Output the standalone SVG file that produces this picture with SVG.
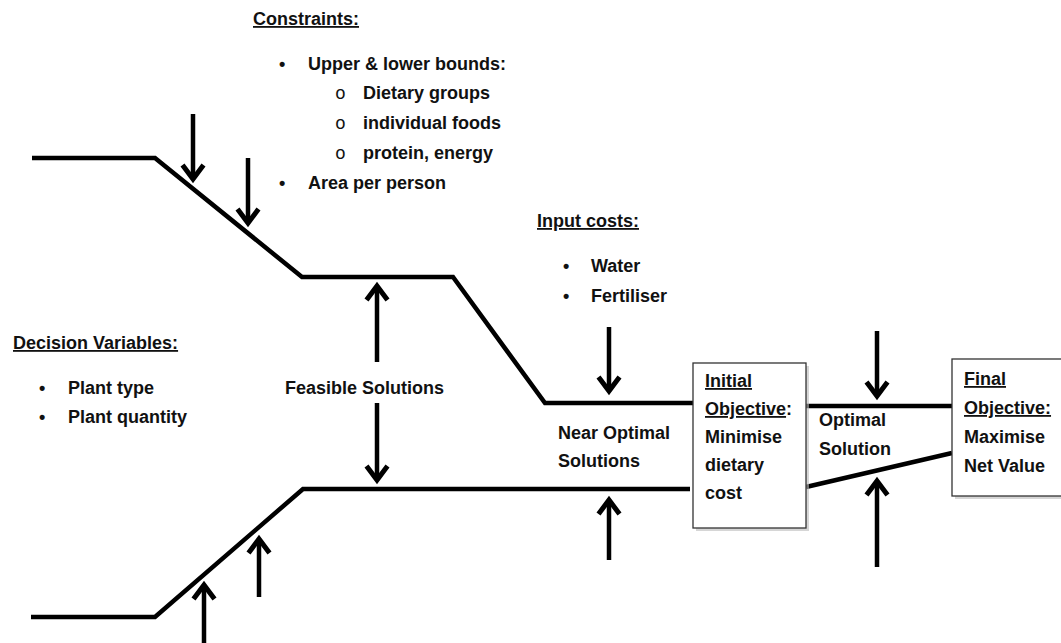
<svg xmlns="http://www.w3.org/2000/svg" width="1061" height="643" viewBox="0 0 1061 643">
<style>
text{font-family:"Liberation Sans",Arial,sans-serif;font-weight:bold;font-size:18px;fill:#111}
.u{text-decoration:underline}
.ln{fill:none;stroke:#000;stroke-width:4.5;stroke-linejoin:miter}
.ar{fill:none;stroke:#000;stroke-width:4.5;marker-end:url(#head)}
.box{fill:#fff;stroke:#333;stroke-width:1.3}
.sh{fill:#bbb;opacity:0.6}
.circ{font-family:"Liberation Mono",monospace;font-weight:normal}
</style>
<defs>
<marker id="head" markerUnits="userSpaceOnUse" viewBox="-20 -14 26 28" refX="0" refY="0" markerWidth="26" markerHeight="28" orient="auto" overflow="visible">
<path d="M-14,-10.5 L0,0 L-14,10.5" fill="none" stroke="#000" stroke-width="5" stroke-linejoin="miter"/>
</marker>
</defs>
<g id="connectors">
<path class="ln" d="M32,158 L155,158 L302,277 L453,277 L545,403 L693,403"/>
<path class="ln" d="M31,617 L155,617 L303,489 L690,489"/>
<path class="ln" d="M806,406 L952,406"/>
<path class="ln" d="M806,487 L952,453"/>
<line class="ar" x1="193" y1="114" x2="193" y2="179"/>
<line class="ar" x1="248" y1="158" x2="248" y2="223"/>
<line class="ar" x1="377" y1="362" x2="377" y2="286"/>
<line class="ar" x1="377" y1="403" x2="377" y2="480"/>
<line class="ar" x1="609" y1="327" x2="609" y2="391"/>
<line class="ar" x1="609" y1="560" x2="609" y2="500"/>
<line class="ar" x1="877" y1="331" x2="877" y2="396"/>
<line class="ar" x1="877" y1="567" x2="877" y2="481"/>
<line class="ar" x1="204" y1="643" x2="204" y2="585"/>
<line class="ar" x1="259" y1="597" x2="259" y2="539"/>
</g>
<g id="constraints">
<text x="253" y="25" class="u">Constraints:</text>
<text x="279" y="70">•</text><text x="308" y="70">Upper &amp; lower bounds:</text>
<text x="335" y="99" class="circ">o</text><text x="363" y="99">Dietary groups</text>
<text x="335" y="129" class="circ">o</text><text x="363" y="129">individual foods</text>
<text x="335" y="159" class="circ">o</text><text x="363" y="159">protein, energy</text>
<text x="279" y="189">•</text><text x="308" y="189">Area per person</text>
</g>
<g id="input-costs">
<text x="537" y="227" class="u">Input costs:</text>
<text x="563" y="272">•</text><text x="591" y="272">Water</text>
<text x="563" y="302">•</text><text x="591" y="302">Fertiliser</text>
</g>
<g id="decision-variables">
<text x="13" y="349" class="u">Decision Variables:</text>
<text x="39" y="394">•</text><text x="68" y="394">Plant type</text>
<text x="39" y="423">•</text><text x="68" y="423">Plant quantity</text>
</g>
<g id="feasible">
<text x="285" y="394">Feasible Solutions</text>
</g>
<g id="near-optimal">
<text x="558" y="439">Near Optimal</text>
<text x="558" y="467">Solutions</text>
</g>
<g id="initial-objective">
<rect class="sh" x="696" y="366" width="113" height="165"/>
<rect class="box" x="693" y="363" width="113" height="165"/>
<text x="705" y="387" class="u">Initial</text>
<text x="705" y="415"><tspan class="u">Objective</tspan>:</text>
<text x="705" y="443">Minimise</text>
<text x="705" y="471">dietary</text>
<text x="705" y="499">cost</text>
</g>
<g id="optimal">
<text x="819" y="426">Optimal</text>
<text x="819" y="455">Solution</text>
</g>
<g id="final-objective">
<rect class="sh" x="955" y="362" width="110" height="137"/>
<rect class="box" x="952" y="359" width="112" height="137"/>
<text x="964" y="385" class="u">Final</text>
<text x="964" y="414" class="u">Objective:</text>
<text x="964" y="443">Maximise</text>
<text x="964" y="472">Net Value</text>
</g>
</svg>
